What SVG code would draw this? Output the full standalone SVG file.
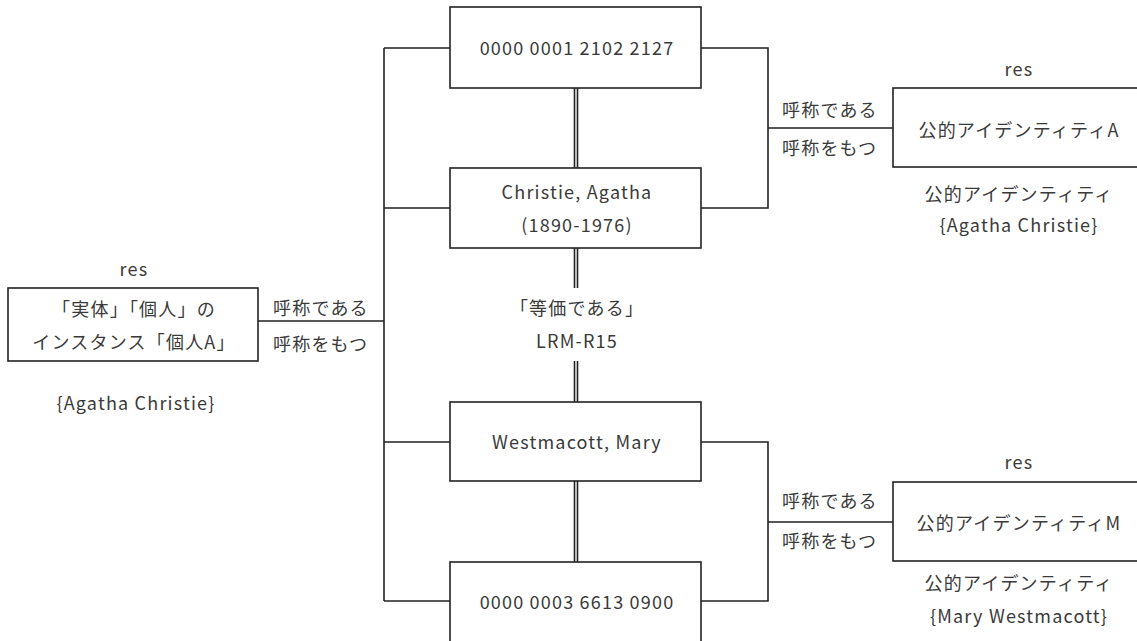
<svg xmlns="http://www.w3.org/2000/svg" width="1137" height="641" viewBox="0 0 1137 641">
<style>
.box{fill:#fff;stroke:#222;stroke-width:1.6}
.ln{fill:none;stroke:#222;stroke-width:1.6}
text{font-family:"Noto Sans CJK JP","Noto Sans",sans-serif;font-size:18px;letter-spacing:1.2px;fill:#3a3a3a;text-anchor:middle;dominant-baseline:central}
.l{text-anchor:start}
</style>
<rect width="1137" height="641" fill="#fff"/>
<g id="connectors">
<path class="ln" d="M384,48 V601 M384,48 H450 M384,208 H450 M384,442 H450 M384,601 H450 M258,321 H384"/>
<path class="ln" d="M701,48 H768 V208 H701 M768,128 H893"/>
<path class="ln" d="M701,442 H768 V601 H701 M768,522 H893"/>
<path class="ln" d="M574.5,88 V168 M577.5,88 V168 M574.5,248 V288 M577.5,248 V288 M574.5,361 V402 M577.5,361 V402 M574.5,481 V562 M577.5,481 V562"/>
<text x="577" y="307">「等価である」</text>
<text x="577" y="340">LRM-R15</text>
<text class="l" x="273" y="307">呼称である</text>
<text class="l" x="273" y="343">呼称をもつ</text>
<text class="l" x="782" y="109">呼称である</text>
<text class="l" x="782" y="147">呼称をもつ</text>
<text class="l" x="782" y="500">呼称である</text>
<text class="l" x="782" y="540">呼称をもつ</text>
</g>
<g id="n-top">
<rect class="box" x="450" y="7" width="251" height="81"/>
<text x="577" y="47">0000 0001 2102 2127</text>
</g>
<g id="n-christie">
<rect class="box" x="450" y="168" width="251" height="80"/>
<text x="577" y="191">Christie, Agatha</text>
<text x="577" y="224">(1890-1976)</text>
</g>
<g id="n-westmacott">
<rect class="box" x="450" y="402" width="251" height="79"/>
<text x="577" y="441">Westmacott, Mary</text>
</g>
<g id="n-bottom">
<rect class="box" x="450" y="562" width="251" height="90"/>
<text x="577" y="601">0000 0003 6613 0900</text>
</g>
<g id="n-person">
<text x="134" y="268">res</text>
<rect class="box" x="8" y="288" width="250" height="73"/>
<text x="134" y="308">「実体」「個人」の</text>
<text x="134" y="341">インスタンス「個人A」</text>
<text x="136" y="402">{Agatha Christie}</text>
</g>
<g id="n-identA">
<text x="1019" y="68">res</text>
<rect class="box" x="893" y="88" width="260" height="79"/>
<text x="1019" y="129">公的アイデンティティA</text>
<text x="1019" y="193">公的アイデンティティ</text>
<text x="1019" y="224">{Agatha Christie}</text>
</g>
<g id="n-identM">
<text x="1019" y="461">res</text>
<rect class="box" x="893" y="482" width="260" height="79"/>
<text x="1019" y="522">公的アイデンティティM</text>
<text x="1019" y="582">公的アイデンティティ</text>
<text x="1019" y="615">{Mary Westmacott}</text>
</g>
</svg>
